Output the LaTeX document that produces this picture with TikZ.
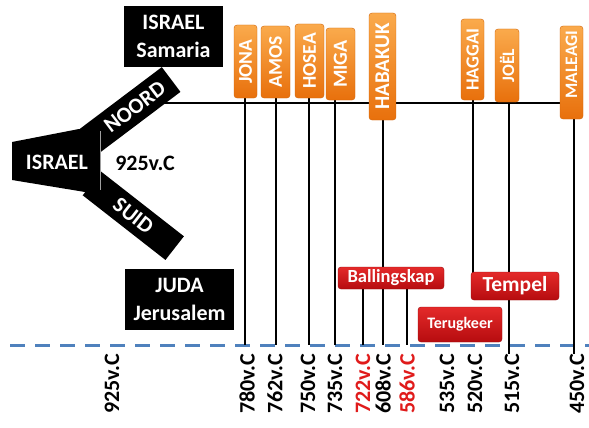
\documentclass[tikz,border=0pt]{standalone}
\usepackage{fontspec}
\setmainfont{Carlito}
\usetikzlibrary{backgrounds}
\definecolor{dashblue}{HTML}{4F81BD}
\definecolor{orL}{HTML}{FAAA4C}
\definecolor{orD}{HTML}{E8700C}
\definecolor{rdL}{HTML}{E42A2A}
\definecolor{rdD}{HTML}{B60C0F}
\definecolor{lblred}{HTML}{E01B1B}
\begin{document}
\begin{tikzpicture}[x=1pt,y=-1pt,
  blk/.style={fill=black, text=white, align=center, inner sep=0pt,
    font=\bfseries\fontsize{22}{28}\selectfont},
  arm/.style={fill=black, text=white, inner sep=0pt,
    font=\bfseries\fontsize{22}{24}\selectfont},
  wtxt/.style={text=white, inner sep=0pt, font=\bfseries\fontsize{22}{24}\selectfont},
  btxt/.style={text=black, inner sep=0pt, font=\bfseries\fontsize{22}{24}\selectfont},
  prophet/.style={rotate=90, rounded corners=3pt, top color=orL, bottom color=orD,
    draw=orD!90!black, line width=0.4pt, text=white, inner sep=0pt,
    font=\bfseries\fontsize{#1}{#1}\selectfont},
  redbox/.style={rounded corners=3pt, top color=rdL, bottom color=rdD,
    draw=rdD!85!black, line width=0.4pt, text=white, inner sep=0pt,
    font=\bfseries\fontsize{#1}{#1}\selectfont},
  datelbl/.style={rotate=90, anchor=east, inner sep=0pt,
    font=\bfseries\fontsize{22}{24}\selectfont},
  vline/.style={line width=2pt, black},
  dashline/.style={line width=3pt, dashblue, dash pattern=on 15pt off 10pt}
]
\useasboundingbox (0,0) rectangle (589,428);

% ---- Y shape ----
\fill[black] (12,142) -- (79,129) -- (100,130) -- (100,193) -- (85,192) -- (12,180) -- cycle;
\node[arm, rotate=37, minimum width=103pt, minimum height=31pt] (noord) at (130,110.5) {\hspace{12pt}NOORD};
\node[arm, rotate=-38, minimum width=105pt, minimum height=30pt] (suid) at (133.3,215.8) {SUID\hspace{10pt}};
\draw[gray!75, line width=1pt] (100,131) -- (100,190);
\node[wtxt] (israel) at (57,162) {ISRAEL};
\node[btxt] (split) at (145,163) {925v.C};

% ---- kingdom boxes ----
\node[blk, minimum width=99pt, minimum height=61pt] (samaria) at (173.5,36.5) {ISRAEL\\Samaria};
\node[blk, minimum width=109pt, minimum height=61pt] (juda) at (179.5,299.5) {JUDA\\Jerusalem};

% ---- prophets ----
\node[prophet=19.5, minimum width=73pt, minimum height=23pt] (jona) at (245.5,61.5) {JONA};
\node[prophet=19.5, minimum width=72pt, minimum height=29pt] (amos) at (275.5,62) {AMOS};
\node[prophet=19.5, minimum width=74pt, minimum height=29pt] (hosea) at (309.5,61) {HOSEA};
\node[prophet=20, minimum width=72pt, minimum height=29pt] (miga) at (340.5,64) {MIGA};
\node[prophet=21, minimum width=107pt, minimum height=27pt] (habakuk) at (382.5,66.5) {HABAKUK};
\node[prophet=18.5, minimum width=81pt, minimum height=23pt] (haggai) at (472.5,59.5) {HAGGAI};
\node[prophet=17.5, minimum width=73pt, minimum height=24pt] (joel) at (507,65.5) {JOËL};
\node[prophet=17.5, minimum width=93pt, minimum height=23pt] (maleagi) at (571.5,72.5) {\hspace{16pt}MALEAGI};

% ---- red boxes ----
\node[redbox=18.5, minimum width=106pt, minimum height=22pt] (balling) at (391,278) {Ballingskap};
\node[redbox=21.5, minimum width=88pt, minimum height=28pt] (tempel) at (515,286) {Tempel};
\node[redbox=16, minimum width=84pt, minimum height=35pt] (terug) at (460,324.5) {Terugkeer};

% ---- date labels ----
\node[datelbl] (l925) at (112,354) {925v.C};
\node[datelbl] (l780) at (247,354) {780v.C};
\node[datelbl] (l762) at (275,354) {762v.C};
\node[datelbl] (l750) at (308,354) {750v.C};
\node[datelbl] (l735) at (335,354) {735v.C};
\node[datelbl, text=lblred] (l722) at (363,354) {722v.C};
\node[datelbl] (l608) at (383,354) {608v.C};
\node[datelbl, text=lblred] (l586) at (407,354) {586v.C};
\node[datelbl] (l535) at (447,354) {535v.C};
\node[datelbl] (l520) at (475,354) {520v.C};
\node[datelbl] (l515) at (512,354) {515v.C};
\node[datelbl] (l450) at (577,354) {450v.C};

% ---- coordinates on the timeline ----
\coordinate (dashL) at (10,345);
\coordinate (dashR) at (589,345);
\coordinate (t780) at (245,345);
\coordinate (t762) at (276,345);
\coordinate (t750) at (309,345);
\coordinate (t735) at (335,345);
\coordinate (t722) at (363,345);
\coordinate (t608) at (382.5,345);
\coordinate (t586) at (407,345);
\coordinate (t520) at (473,345);
\coordinate (t515) at (509,345);
\coordinate (t450) at (574,345);
\coordinate (hstart) at (160,103);

\begin{scope}[on background layer]
  \fill[white] (0,0) rectangle (589,428);
  \draw[dashline] (dashL) -- (dashR);
  \draw[vline] (hstart) -- (maleagi.center |- hstart);
  \draw[vline] (t780 |- jona.center) -- (t780);
  \draw[vline] (t762 |- amos.center) -- (t762);
  \draw[vline] (t750 |- hosea.center) -- (t750);
  \draw[vline] (t735 |- miga.center) -- (t735);
  \draw[vline] (t608 |- habakuk.center) -- (t608);
  \draw[vline] (t520 |- haggai.center) -- (t520 |- tempel.center);
  \draw[vline] (t515 |- joel.center) -- (t515 |- l515.east);
  \draw[vline] (t450 |- maleagi.center) -- (t450 |- l450.east);
  \draw[vline] (t722 |- balling.center) -- (t722);
  \draw[vline] (t586 |- balling.center) -- (t586);
\end{scope}
\end{tikzpicture}
\end{document}
